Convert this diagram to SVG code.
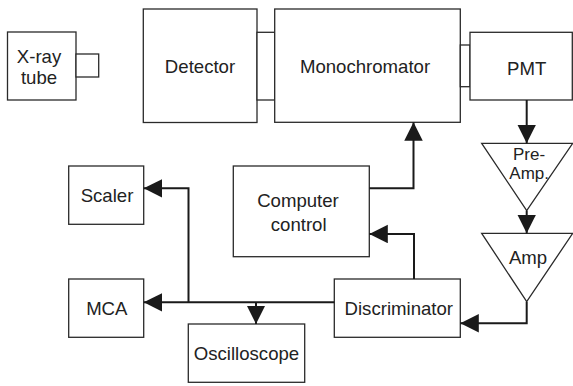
<svg xmlns="http://www.w3.org/2000/svg" width="573" height="386" viewBox="0 0 573 386">
  <style>
    .box { fill: #fff; stroke: #2a2a2a; stroke-width: 1.3; }
    .wire { fill: none; stroke: #1a1a1a; stroke-width: 2; }
    .lbl { font-family: "Liberation Sans", Arial, sans-serif; font-size: 18.6px; fill: #222; text-anchor: middle; }
    .small { font-size: 17px; }
  </style>
  <defs>
    <marker id="arrow" markerUnits="userSpaceOnUse" markerWidth="19" markerHeight="19" refX="18.5" refY="9.25" orient="auto">
      <path d="M0,0 L18.5,9.25 L0,18.5 z" fill="#1a1a1a"/>
    </marker>
  </defs>
  <rect width="573" height="386" fill="#fff"/>

  <g id="xray-tube">
    <rect class="box" x="7.5" y="32" width="68.5" height="68"/>
    <rect class="box" x="76" y="54" width="22.7" height="23"/>
    <text class="lbl" x="39" y="63.3">X-ray</text>
    <text class="lbl" x="39" y="83.5">tube</text>
  </g>

  <g id="detector">
    <rect class="box" x="143.3" y="9" width="113.7" height="113.5"/>
    <text class="lbl" x="200" y="72.5">Detector</text>
  </g>

  <g id="det-mono-coupling">
    <rect class="box" x="257" y="32.3" width="17.7" height="67.7"/>
  </g>

  <g id="monochromator">
    <rect class="box" x="274.7" y="9" width="185.6" height="113.3"/>
    <text class="lbl" x="365" y="72.7">Monochromator</text>
  </g>

  <g id="mono-pmt-coupling">
    <rect class="box" x="460.3" y="45" width="9.7" height="41.7"/>
  </g>

  <g id="pmt">
    <rect class="box" x="470" y="32.3" width="102.3" height="67.7"/>
    <text class="lbl" x="526.7" y="75">PMT</text>
  </g>

  <g id="pre-amp">
    <polygon class="box" points="481.7,143.3 572.7,143.3 526.7,210.7"/>
    <text class="lbl small" x="529" y="159.5">Pre-</text>
    <text class="lbl small" x="529.2" y="178.5">Amp.</text>
  </g>

  <g id="amp">
    <polygon class="box" points="481.7,233.3 572.7,233.3 526.7,301.7"/>
    <text class="lbl" x="528" y="264">Amp</text>
  </g>

  <g id="computer-control">
    <rect class="box" x="233.3" y="166" width="136" height="90.7"/>
    <text class="lbl" x="298" y="206.7">Computer</text>
    <text class="lbl" x="298.7" y="230.7">control</text>
  </g>

  <g id="discriminator">
    <rect class="box" x="334.3" y="279" width="126" height="58.3"/>
    <text class="lbl" x="398.8" y="315">Discriminator</text>
  </g>

  <g id="scaler">
    <rect class="box" x="68.7" y="166" width="75" height="58.3"/>
    <text class="lbl" x="107" y="202.3">Scaler</text>
  </g>

  <g id="mca">
    <rect class="box" x="68.7" y="279" width="75" height="58.3"/>
    <text class="lbl" x="106.8" y="315">MCA</text>
  </g>

  <g id="oscilloscope">
    <rect class="box" x="188.3" y="324" width="116.4" height="58.3"/>
    <text class="lbl" x="246.5" y="360">Oscilloscope</text>
  </g>

  <g id="connectors">
    <path class="wire" d="M526.7,100 V143.3" marker-end="url(#arrow)"/>
    <path class="wire" d="M526.7,210.7 V233.3" marker-end="url(#arrow)"/>
    <path class="wire" d="M526.7,301.7 V323.3 H460.3" marker-end="url(#arrow)"/>
    <path class="wire" d="M414,279 V234 H369.3" marker-end="url(#arrow)"/>
    <path class="wire" d="M369.3,188.3 H413.5 V122.3" marker-end="url(#arrow)"/>
    <path class="wire" d="M334.3,302.3 H143.7" marker-end="url(#arrow)"/>
    <path class="wire" d="M188.5,302.3 V188.3 H143.7" marker-end="url(#arrow)"/>
    <path class="wire" d="M256,302.3 V324" marker-end="url(#arrow)"/>
  </g>
</svg>
